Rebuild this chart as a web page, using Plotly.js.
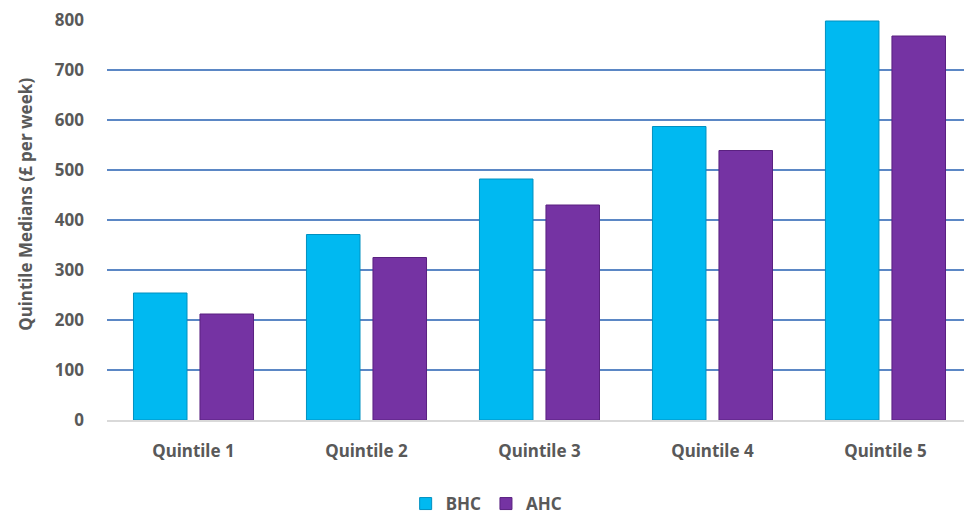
<!DOCTYPE html>
<html>
<head>
<meta charset="utf-8">
<script src="https://cdn.plot.ly/plotly-3.0.1.min.js"></script>
<style>html,body{margin:0;padding:0;background:#fff;}#chart{width:964px;height:516px;}</style>
</head>
<body>
<div id="chart"></div>
<script>
const categories = ["Quintile 1", "Quintile 2", "Quintile 3", "Quintile 4", "Quintile 5"];
const bhc = [254, 371, 482, 587, 798];
const ahc = [212, 325, 430, 539, 768];
const yTicks = [0, 100, 200, 300, 400, 500, 600, 700, 800];
const yTitle = "Quintile Medians (£ per week)";

const font = {family: "Noto Sans, Open Sans, sans-serif", color: "#595959"};

const traces = [
  {type: "bar", name: "BHC", x: categories, y: bhc,
   marker: {color: "#00B9F1", line: {color: "#0090C0", width: 1}}},
  {type: "bar", name: "AHC", x: categories, y: ahc,
   marker: {color: "#7533A3", line: {color: "#5A2180", width: 1}}}
];

const layout = {
  width: 964, height: 516,
  margin: {l: 107, r: 0, t: 20, b: 96, autoexpand: false},
  paper_bgcolor: "#fff", plot_bgcolor: "#fff",
  barmode: "group", bargap: 0.231, bargroupgap: 0.195,
  xaxis: {
    range: [-0.5, 4.454], showgrid: false, zeroline: false, automargin: false,
    showline: true, linecolor: "#D9D9D9", linewidth: 1.5,
    ticks: "", ticklabelstandoff: 15,
    tickfont: Object.assign({size: 17, weight: "bold"}, font)
  },
  yaxis: {
    range: [0, 800], tickvals: yTicks, ticktext: yTicks.map(String),
    showgrid: true, gridcolor: "#5B87C5", gridwidth: 1.5, automargin: false,
    zeroline: false, showline: false, ticks: "", ticklabelstandoff: 22,
    tickfont: Object.assign({size: 17, weight: "bold"}, font)
  },
  annotations: [{
    text: yTitle, textangle: -90, showarrow: false,
    xref: "paper", yref: "paper", x: -0.096, y: 0.54,
    xanchor: "center", yanchor: "middle",
    font: Object.assign({size: 17, weight: "bold"}, font)
  }],
  showlegend: true,
  legend: {orientation: "h", x: 0.443, xanchor: "center", y: -0.165, yanchor: "top",
           font: Object.assign({size: 17, weight: "bold"}, font),
           itemwidth: 30, traceorder: "normal"}
};

Plotly.newPlot("chart", traces, layout, {displayModeBar: false, staticPlot: true});
</script>
</body>
</html>
